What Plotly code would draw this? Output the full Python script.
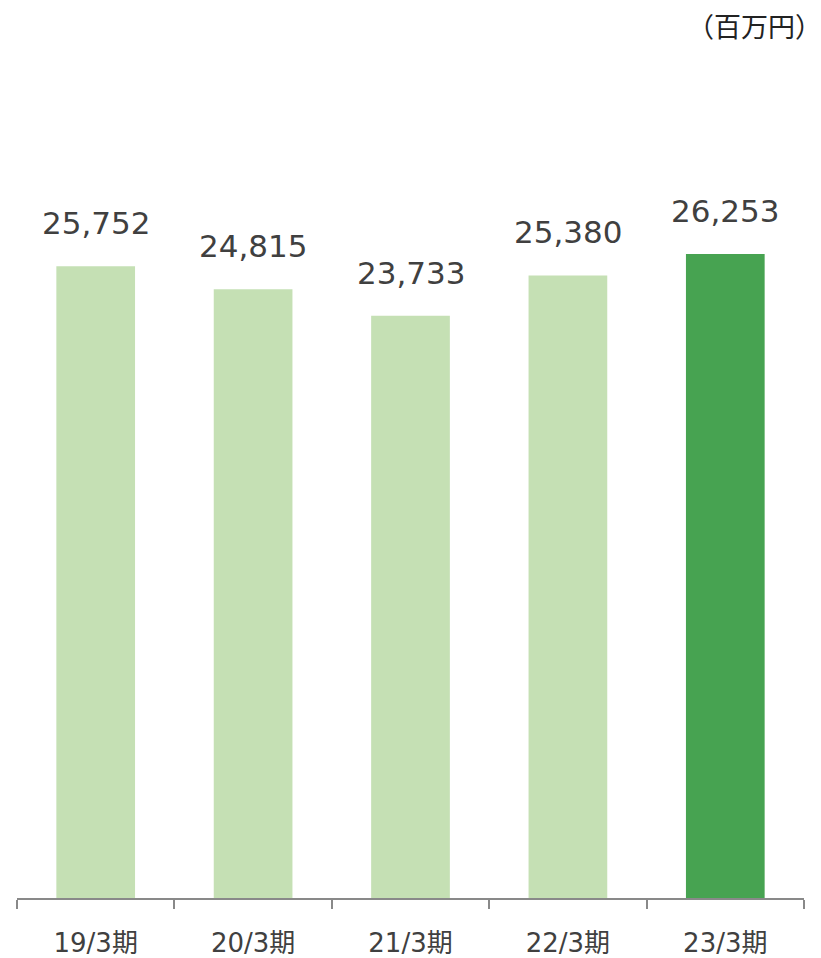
import plotly.graph_objects as go

# Net sales by fiscal period (millions of yen)
periods = ["19/3期", "20/3期", "21/3期", "22/3期", "23/3期"]
values = [25752, 24815, 23733, 25380, 26253]
bar_colors = ["#C5E0B4", "#C5E0B4", "#C5E0B4", "#C5E0B4", "#47A351"]
unit_label = "（百万円）"

text_color = "#404040"
axis_color = "#898989"

fig = go.Figure(
    go.Bar(
        x=periods,
        y=values,
        marker=dict(color=bar_colors, line=dict(width=0)),
        hoverinfo="skip",
    )
)

# Value labels above each bar
for p, v in zip(periods, values):
    fig.add_annotation(
        x=p, y=v, xref="x", yref="y",
        text=f"{v:,}",
        showarrow=False,
        yanchor="bottom",
        yshift=23,
        font=dict(family="DejaVu Sans, Noto Sans CJK JP", size=31, color=text_color),
    )

# Unit note in the top-right corner
fig.add_annotation(
    x=1.0, y=1.112, xref="paper", yref="paper",
    text=unit_label, showarrow=False,
    xanchor="right", yanchor="middle", xshift=19,
    borderpad=0,
    font=dict(family="Noto Sans CJK JP", size=27, color="#222222"),
)

fig.update_layout(
    width=821, height=958,
    margin=dict(l=17, r=17, t=113, b=60, autoexpand=False),
    paper_bgcolor="white", plot_bgcolor="white",
    bargap=0.5,
    showlegend=False,
    xaxis=dict(
        automargin=False,
        showline=True, linecolor=axis_color, linewidth=2,
        ticks="outside", tickson="boundaries", ticklen=9,
        tickwidth=2, tickcolor=axis_color,
        tickfont=dict(family="DejaVu Sans, Noto Sans CJK JP", size=26, color=text_color),
        ticklabelstandoff=21,
        showgrid=False, zeroline=False,
    ),
    yaxis=dict(
        automargin=False,
        range=[0, 32000], visible=False, showgrid=False, zeroline=False,
    ),
)

fig.write_html("out.html")
